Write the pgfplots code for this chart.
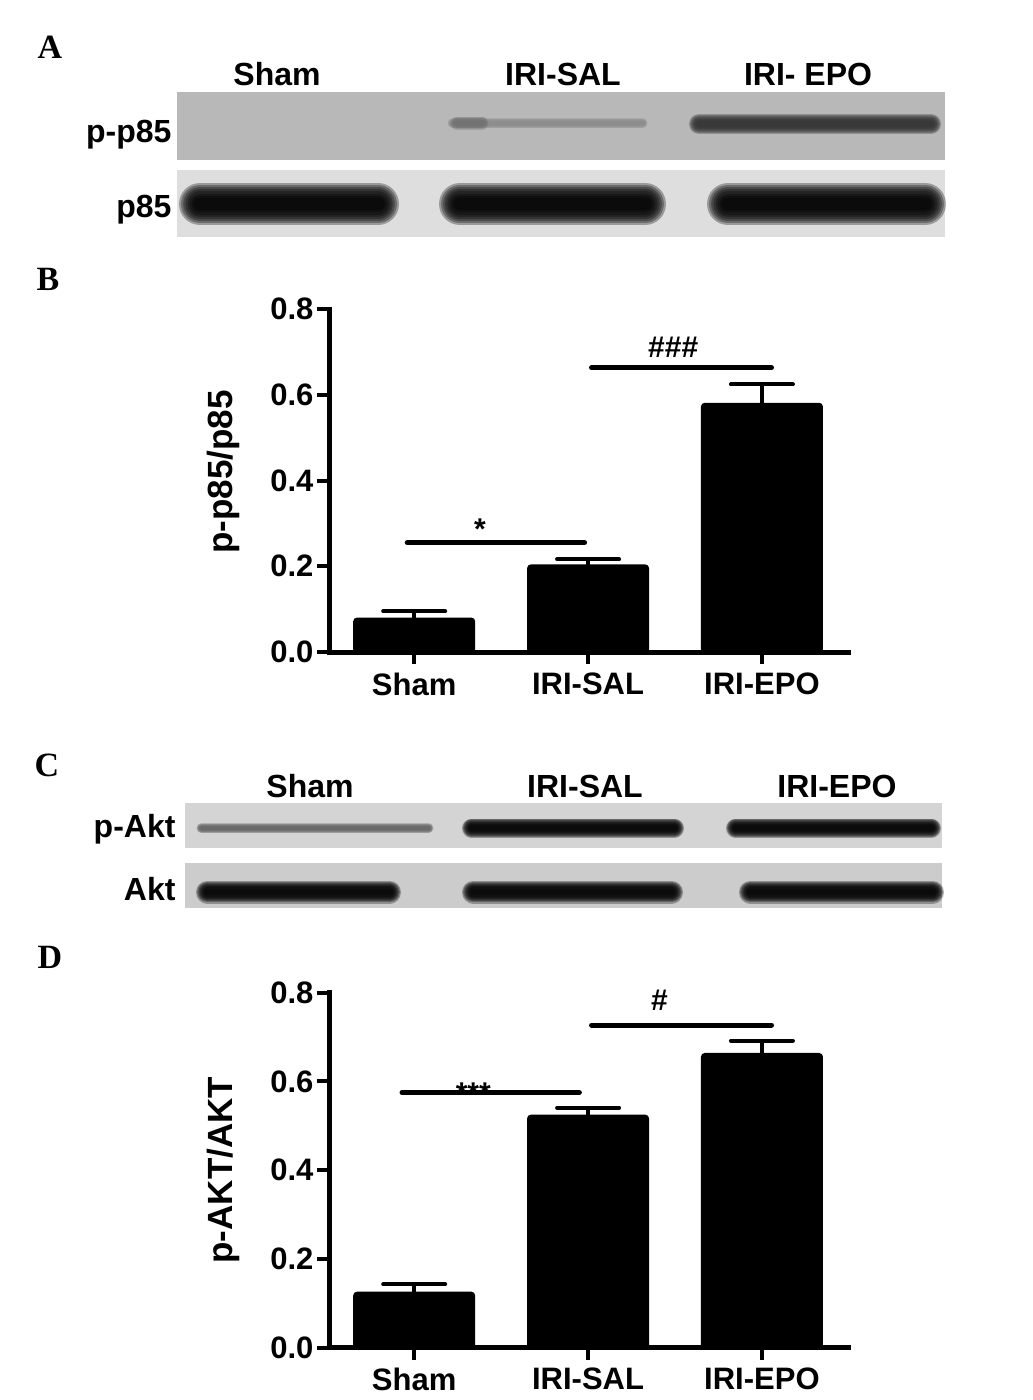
\documentclass[border=0pt]{standalone}
\usepackage{fontspec}
\setmainfont{Liberation Sans}
\newfontfamily\lettfont{Liberation Serif}
\usepackage{pgfplots}
\pgfplotsset{compat=1.18}

\definecolor{stripA}{gray}{0.72}
\definecolor{stripB}{gray}{0.87}
\definecolor{stripC}{gray}{0.83}
\definecolor{stripD}{gray}{0.80}

% blot band = stack of soft round-capped strokes, narrowing towards the core
\newcommand{\band}[5]{%
  \pgfplotsinvokeforeach{1.0,0.9,0.8,0.7,0.6,0.5,0.4,0.3}{%
    \addplot[no marks, draw=#5, opacity=0.3, line cap=round, line width={##1*#4pt}]
      coordinates {(#1,#3) (#2,#3)};
  }%
}
% membrane strip: x1, x2, y1, y2, colour
\newcommand{\strip}[5]{%
  \addplot[fill=#5, draw=none] coordinates {(#1,#3) (#2,#3) (#2,#4) (#1,#4)} -- cycle;
}

\newcommand{\lab}{\fontsize{32}{38}\selectfont\bfseries}

\pgfplotsset{barpanel/.style={
  scale only axis, width=519pt, clip=false,
  xmin=-0.49, xmax=2.495, ymin=0, ymax=0.8,
  axis x line*=bottom, axis y line*=left,
  axis line style={line width=5pt, line cap=rect},
  tick align=outside, major tick length=12pt,
  tick style={line width=4pt, black},
  xtick={0,1,2}, xticklabels={Sham,IRI-SAL,IRI-EPO},
  ytick={0,0.2,0.4,0.6,0.8},
  /pgf/number format/assume math mode=true,
  yticklabel style={/pgf/number format/fixed, /pgf/number format/fixed zerofill,
    /pgf/number format/precision=1},
  xticklabel style={yshift=-5pt},
  ticklabel style={font=\fontsize{31}{36}\selectfont\bfseries},
  ylabel style={font=\fontsize{35}{40}\selectfont\bfseries, anchor=center},
}}

\begin{document}
\begin{tikzpicture}
\useasboundingbox (0pt,0pt) rectangle (1033pt,-1400pt);

% ---- western blots (pixel grid of the figure) ----
\begin{axis}[at={(0pt,0pt)}, anchor=north west, scale only axis,
  width=1033pt, height=1400pt, xmin=0, xmax=1033, ymin=0, ymax=1400,
  y dir=reverse, hide axis, clip=false]

\strip{177}{945}{92}{160}{stripA}
\strip{177}{945}{170}{237}{stripB}
\strip{185}{942}{803}{848}{stripC}
\strip{185}{942}{863}{908}{stripD}

% A: p-p85
\band{452.5}{642.5}{123}{10}{black!45}
\band{457}{482}{123}{13}{black!55}
\band{699}{931}{124}{20}{black!80}
% A: p85
\band{200}{378}{204}{42}{black}
\band{460}{645}{204}{42}{black}
\band{728}{925}{204}{42}{black}
% C: p-Akt
\band{201.5}{428.5}{828}{10}{black!60}
\band{471.5}{674.5}{828}{19}{black}
\band{735.5}{931.5}{828}{19}{black}
% C: Akt
\band{207.5}{389.5}{892}{23}{black}
\band{473.5}{671.5}{892}{23}{black}
\band{750.5}{932.5}{892}{23}{black}

\node[anchor=base, font=\lettfont\fontsize{34}{40}\selectfont\bfseries] at (axis cs:50,58) {A};
\node[anchor=base, font=\lettfont\fontsize{34}{40}\selectfont\bfseries] at (axis cs:48,290) {B};
\node[anchor=base, font=\lettfont\fontsize{34}{40}\selectfont\bfseries] at (axis cs:47,776) {C};
\node[anchor=base, font=\lettfont\fontsize{34}{40}\selectfont\bfseries] at (axis cs:50,968) {D};

\node[anchor=base, font=\lab] at (axis cs:277,85) {Sham};
\node[anchor=base, font=\lab] at (axis cs:563,85) {IRI-SAL};
\node[anchor=base, font=\lab] at (axis cs:808,85) {IRI- EPO};
\node[anchor=base east, font=\lab] at (axis cs:175,142) {p-p85};
\node[anchor=base east, font=\lab] at (axis cs:175,217) {p85};

\node[anchor=base, font=\lab] at (axis cs:310,797) {Sham};
\node[anchor=base, font=\lab] at (axis cs:585,797) {IRI-SAL};
\node[anchor=base, font=\lab] at (axis cs:837,797) {IRI-EPO};
\node[anchor=base east, font=\lab] at (axis cs:179,837) {p-Akt};
\node[anchor=base east, font=\lab] at (axis cs:179,900) {Akt};
\end{axis}

% ---- B: p-p85/p85 ----
\begin{axis}[barpanel, at={(329pt,-652pt)}, anchor=south west, height=343pt,
  ylabel={p-p85/p85}, ylabel style={at={(axis description cs:-0.204,0.525)}}]
\addplot[ybar, bar width=120pt, fill=black, draw=black, line width=2pt, rounded corners=3pt,
  error bars/.cd, y dir=plus, y explicit, error mark=|,
  error bar style={line width=4pt, black, sharp corners},
  error mark options={line width=4pt, line cap=round, mark size=31pt, black}]
  coordinates {(0,0.078) +- (0,0.017) (1,0.202) +- (0,0.014) (2,0.579) +- (0,0.045)};
\addplot[no marks, line width=5pt, line cap=round] coordinates {(-0.04,0.255) (0.98,0.255)};
\addplot[no marks, line width=5pt, line cap=round] coordinates {(1.02,0.663) (2.055,0.663)};
\node[anchor=base, font=\fontsize{30}{36}\selectfont\bfseries] at (axis cs:0.378,0.262) {*};
\node[anchor=base, font=\fontsize{30}{36}\selectfont\bfseries] at (axis cs:1.49,0.687) {\#\#\#};
\end{axis}

% ---- D: p-AKT/AKT ----
\begin{axis}[barpanel, at={(329pt,-1347.7pt)}, anchor=south west, height=355pt,
  ylabel={p-AKT/AKT}, ylabel style={at={(axis description cs:-0.204,0.5)}}]
\addplot[ybar, bar width=120pt, fill=black, draw=black, line width=2pt, rounded corners=3pt,
  error bars/.cd, y dir=plus, y explicit, error mark=|,
  error bar style={line width=4pt, black, sharp corners},
  error mark options={line width=4pt, line cap=round, mark size=31pt, black}]
  coordinates {(0,0.124) +- (0,0.019) (1,0.523) +- (0,0.018) (2,0.662) +- (0,0.030)};
\addplot[no marks, line width=5pt, line cap=round] coordinates {(-0.07,0.575) (0.95,0.575)};
\addplot[no marks, line width=5pt, line cap=round] coordinates {(1.02,0.727) (2.055,0.727)};
\node[anchor=base, font=\fontsize{30}{36}\selectfont\bfseries] at (axis cs:0.34,0.55) {***};
\node[anchor=base, font=\fontsize{30}{36}\selectfont\bfseries] at (axis cs:1.41,0.76) {\#};
\end{axis}
\end{tikzpicture}
\end{document}
